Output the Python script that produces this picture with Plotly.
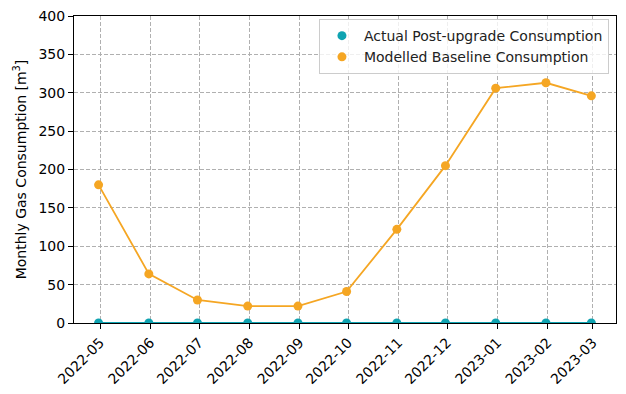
import plotly.graph_objects as go

dates = ["2022-04-30", "2022-05-31", "2022-06-30", "2022-07-31", "2022-08-31",
         "2022-09-30", "2022-10-31", "2022-11-30", "2022-12-31", "2023-01-31", "2023-02-28"]
actual = [0, 0, 0, 0, 0, 0, 0, 0, 0, 0, 0]
baseline = [180, 64, 30, 22, 22, 41, 122, 205, 306, 313, 296]
tick_vals = ["2022-05-01", "2022-06-01", "2022-07-01", "2022-08-01", "2022-09-01", "2022-10-01",
             "2022-11-01", "2022-12-01", "2023-01-01", "2023-02-01", "2023-03-01"]
tick_text = ["2022-05", "2022-06", "2022-07", "2022-08", "2022-09", "2022-10",
             "2022-11", "2022-12", "2023-01", "2023-02", "2023-03"]

TEAL = "#0fa3b1"
ORANGE = "#f5a623"
FONT = "DejaVu Sans"

fig = go.Figure()
fig.add_trace(go.Scatter(x=dates, y=baseline, mode="lines+markers",
                         line=dict(color=ORANGE, width=1.8),
                         marker=dict(color=ORANGE, size=9), showlegend=False))
fig.add_trace(go.Scatter(x=dates, y=actual, mode="lines+markers",
                         line=dict(color=TEAL, width=1.8),
                         marker=dict(color=TEAL, size=9), showlegend=False))
fig.add_trace(go.Scatter(x=[dates[0]], y=[-100], mode="markers", name="Actual Post-upgrade Consumption",
                         marker=dict(color=TEAL, size=9)))
fig.add_trace(go.Scatter(x=[dates[0]], y=[-100], mode="markers", name="Modelled Baseline Consumption",
                         marker=dict(color=ORANGE, size=9)))

axis_common = dict(showline=True, linecolor="black", linewidth=1, mirror=True,
                   ticks="outside", ticklen=5, tickcolor="black",
                   showgrid=True, gridcolor="#b0b0b0", griddash="4px,2px", gridwidth=1,
                   zeroline=False, layer="below traces", automargin=False,
                   ticklabeloverflow="allow",
                   tickfont=dict(family=FONT, size=14, color="black"))

fig.update_xaxes(type="date", range=["2022-04-14 20:00", "2023-03-15 05:00"],
                 tickmode="array", tickvals=tick_vals, ticktext=tick_text, tickangle=-45,
                 **axis_common)
fig.update_yaxes(range=[0, 400], tickmode="array", tickvals=[0, 50, 100, 150, 200, 250, 300, 350, 400],
                 title=dict(text="Monthly Gas Consumption [m<sup>3</sup>]",
                            font=dict(family=FONT, size=14, color="black"), standoff=8),
                 **axis_common)

# The page body adds an 8px offset, so the figure is sized and margined to compensate.
fig.update_layout(
    width=618, height=386,
    margin=dict(l=66, r=10, t=8, b=71),
    plot_bgcolor="white", paper_bgcolor="white",
    font=dict(family=FONT, size=14, color="black"),
    legend=dict(x=0.987, y=0.99, xanchor="right", yanchor="top",
                bgcolor="rgba(255,255,255,0.8)", bordercolor="#cccccc", borderwidth=1,
                font=dict(family=FONT, size=14, color="#222222"), itemwidth=34,
                tracegroupgap=0),
)

fig.write_html("out.html")
